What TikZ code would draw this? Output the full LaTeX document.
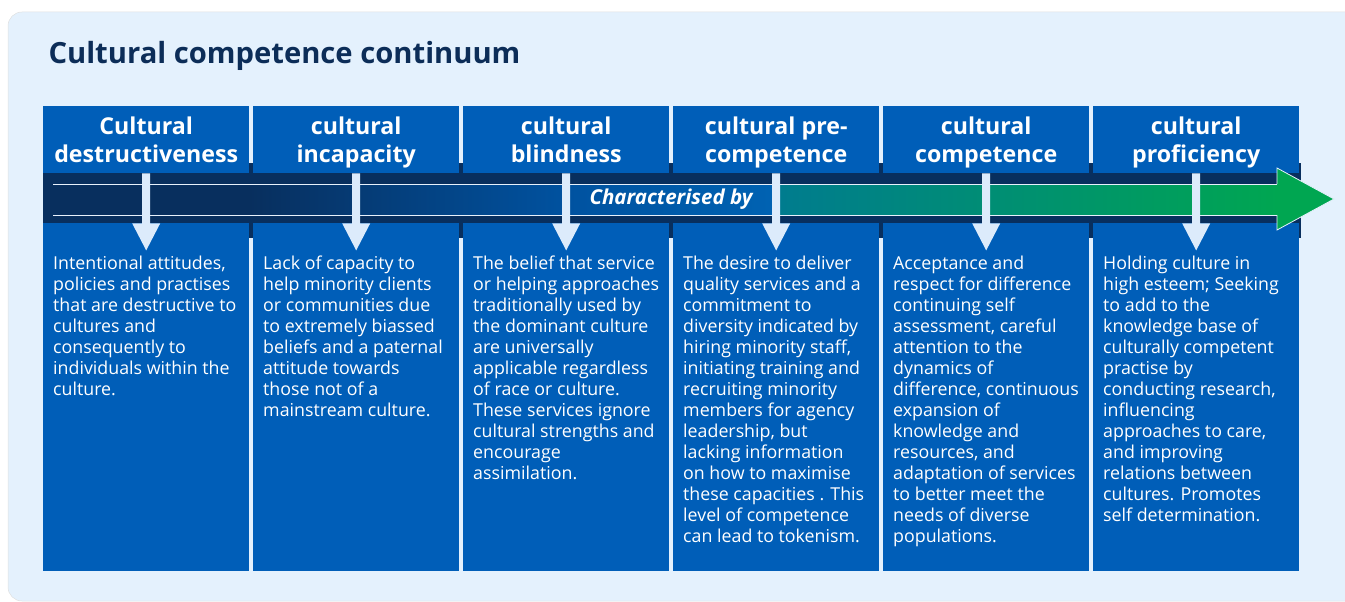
\documentclass[tikz,border=0pt]{standalone}
\usepackage{fontspec}
\setmainfont{Open Sans}
\usetikzlibrary{positioning}
\definecolor{bgblue}{RGB}{228,241,253}
\definecolor{colblue}{RGB}{0,94,184}
\definecolor{navy}{RGB}{8,47,94}
\definecolor{titleblue}{RGB}{12,45,88}
\definecolor{paleblue}{RGB}{220,235,251}
\definecolor{midblue}{RGB}{0,82,160}
\definecolor{textblue}{RGB}{0,98,178}
\definecolor{teal}{RGB}{0,124,142}
\definecolor{arrowgreen}{RGB}{0,166,81}

% stops 25bp..75bp span the shaft
\pgfdeclarehorizontalshading{continuum}{100bp}{color(0bp)=(navy); color(25bp)=(navy); color(33bp)=(navy);
  color(46bp)=(midblue); color(54.3bp)=(textblue); color(54.7bp)=(teal); color(75bp)=(arrowgreen); color(100bp)=(arrowgreen)}

\tikzset{
  colhead/.style={fill=colblue, minimum width=206pt, minimum height=67pt, inner sep=0pt, anchor=north west,
    text=white, align=center, font=\bfseries\fontsize{23.2}{28}\selectfont},
  colbody/.style={fill=colblue, minimum width=206pt, minimum height=348pt, inner sep=0pt, anchor=north west},
  coltext/.style={text=white, align=left, anchor=north west, inner sep=0pt, font=\fontsize{17.8}{21}\selectfont},
  downarrow/.style={fill=paleblue},
}

\begin{document}
\begin{tikzpicture}[x=1pt,y=-1pt]
\useasboundingbox (0,0) rectangle (1345,602);
\filldraw[fill=bgblue, draw=black!12, line width=0.5pt, rounded corners=14pt] (8,12) rectangle (1380,601);
\node[anchor=west, text=titleblue, font=\bfseries\fontsize{29.2}{34}\selectfont] (title) at (45,56) {Cultural competence continuum};

% columns
\fill[navy] (43,163) rectangle (1301,238);
\foreach \i/\a/\b in {1/Cultural/destructiveness, 2/cultural/incapacity, 3/cultural/blindness,
    4/cultural pre-/competence, 5/cultural/competence, 6/cultural/proficiency} {
  \node[colhead] (head\i) at ({43+210*(\i-1)},106) {\rule{0pt}{25.6pt}\a\\\strut\b};
  \node[colbody] (body\i) at ({43+210*(\i-1)},223) {};
}

% characterised by
\fill[navy] (43,173) rectangle (1301,223);
\shade[shading=continuum] (53,184) rectangle (1278,215);
\draw[paleblue!70, line width=0.8pt] (53,184) -- (1278,184) (53,215) -- (1278,215);
\filldraw[fill=arrowgreen, draw=paleblue!70, line width=0.8pt] (1277,184) -- (1277,168) -- (1334,199) -- (1277,230) -- (1277,215);
\node[text=white, font=\bfseries\itshape\fontsize{20.5}{24}\selectfont] (charby) at (671,199) {Characterised by};

\foreach \i in {1,...,6}
  \fill[downarrow] (head\i.south) ++(-4,0) -- ++(0,50) -- ++(-10,0) -- ++(14,27) -- ++(14,-27) -- ++(-10,0) -- ++(0,-50) -- cycle;

\node[coltext] (text1) at ([xshift=10pt,yshift=-33pt]body1.north west) {Intentional attitudes,\\ policies and practises\\ that are destructive to\\ cultures and\\ consequently to\\ individuals within the\\ culture.};
\node[coltext] (text2) at ([xshift=10pt,yshift=-33pt]body2.north west) {Lack of capacity to\\ help minority clients\\ or communities due\\ to extremely biassed\\ beliefs and a paternal\\ attitude towards\\ those not of a\\ mainstream culture.};
\node[coltext] (text3) at ([xshift=10pt,yshift=-33pt]body3.north west) {The belief that service\\ or helping approaches\\ traditionally used by\\ the dominant culture\\ are universally\\ applicable regardless\\ of race or culture.\\ These services ignore\\ cultural strengths and\\ encourage\\ assimilation.};
\node[coltext] (text4) at ([xshift=10pt,yshift=-33pt]body4.north west) {The desire to deliver\\ quality services and a\\ commitment to\\ diversity indicated by\\ hiring minority staff,\\ initiating training and\\ recruiting minority\\ members for agency\\ leadership, but\\ lacking information\\ on how to maximise\\ these capacities . This\\ level of competence\\ can lead to tokenism.};
\node[coltext] (text5) at ([xshift=10pt,yshift=-33pt]body5.north west) {Acceptance and\\ respect for difference\\ continuing self\\ assessment, careful\\ attention to the\\ dynamics of\\ difference, continuous\\ expansion of\\ knowledge and\\ resources, and\\ adaptation of services\\ to better meet the\\ needs of diverse\\ populations.};
\node[coltext] (text6) at ([xshift=10pt,yshift=-33pt]body6.north west) {Holding culture in\\ high esteem; Seeking\\ to add to the\\ knowledge base of\\ culturally competent\\ practise by\\ conducting research,\\ influencing\\ approaches to care,\\ and improving\\ relations between\\ cultures. Promotes\\ self determination.};
\end{tikzpicture}
\end{document}
